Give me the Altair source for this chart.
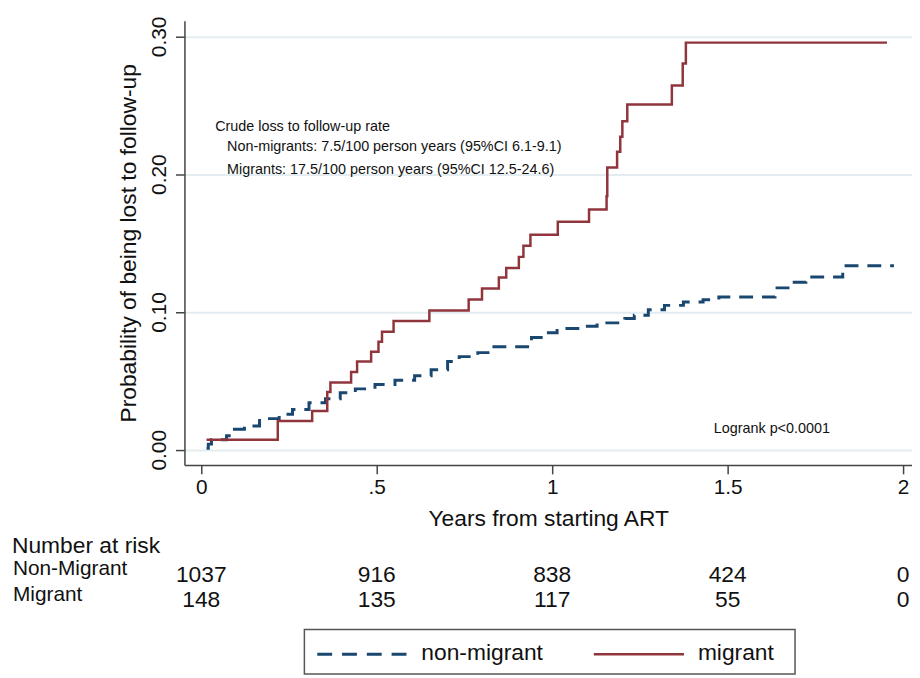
import altair as alt
import pandas as pd

# ---------------- data ----------------
series_names = ["non-migrant", "migrant"]
series_colors = ["#1a476f", "#90353b"]

nonmig_time = [0.015, 0.020, 0.029, 0.072, 0.086, 0.123, 0.166, 0.222, 0.260, 0.307,
               0.354, 0.396, 0.439, 0.495, 0.552, 0.608, 0.655, 0.702, 0.735, 0.788,
               0.834, 0.941, 0.974, 1.014, 1.081, 1.128, 1.207, 1.234, 1.274, 1.320,
               1.374, 1.430, 1.475, 1.635, 1.681, 1.723, 1.828, 1.974]
nonmig_prob = [0.001, 0.0041, 0.0072, 0.0101, 0.0149, 0.0173, 0.0226, 0.0257, 0.0293, 0.0341,
               0.0370, 0.0413, 0.0442, 0.0473, 0.0504, 0.0537, 0.0581, 0.0640, 0.0676, 0.0705,
               0.0748, 0.0815, 0.0849, 0.0880, 0.0897, 0.0921, 0.0952, 0.0976, 0.1017, 0.1048,
               0.1072, 0.1089, 0.1108, 0.1175, 0.1216, 0.1254, 0.1336, 0.1336]

mig_time = [0.015, 0.218, 0.316, 0.359, 0.368, 0.427, 0.444, 0.484, 0.505, 0.515,
            0.548, 0.650, 0.762, 0.800, 0.848, 0.869, 0.905, 0.918, 0.938, 1.016,
            1.105, 1.155, 1.157, 1.185, 1.194, 1.200, 1.214, 1.341, 1.372, 1.381, 1.954]
mig_prob = [0.0072, 0.0209, 0.0281, 0.0420, 0.0489, 0.0564, 0.0640, 0.0712, 0.0784, 0.0856,
            0.0935, 0.1010, 0.1090, 0.1170, 0.1250, 0.1320, 0.1400, 0.1480, 0.1560, 0.1655,
            0.1744, 0.1840, 0.2048, 0.2163, 0.2271, 0.2384, 0.2506, 0.2643, 0.2804, 0.2955, 0.2955]

risk_times = [0, 0.5, 1, 1.5, 2]
risk_nonmig = [1037, 916, 838, 424, 0]
risk_mig = [148, 135, 117, 55, 0]
risk_row_labels = ["Non-Migrant", "Migrant"]
risk_title = "Number at risk"

x_ticks = [0, 0.5, 1, 1.5, 2]
x_tick_labels = ["0", ".5", "1", "1.5", "2"]
y_ticks = [0.0, 0.1, 0.2, 0.3]

x_title = "Years from starting ART"
y_title = "Probability of being lost to follow-up"

note_lines = [
    "Crude loss to follow-up rate",
    "Non-migrants: 7.5/100 person years (95%CI 6.1-9.1)",
    "Migrants: 17.5/100 person years (95%CI 12.5-24.6)",
]
logrank_note = "Logrank p<0.0001"

# ---------------- tables ----------------
curve_df = pd.concat([
    pd.DataFrame({"group": series_names[0], "t": nonmig_time, "p": nonmig_prob}),
    pd.DataFrame({"group": series_names[1], "t": mig_time, "p": mig_prob}),
], ignore_index=True)

FONT = "Liberation Sans, Arial, Helvetica, sans-serif"
TXT = "#111111"
AXC = "#444444"

xs = alt.Scale(domain=[-0.048, 2.0254], nice=False, zero=False)
ys = alt.Scale(domain=[-0.011, 0.3113], nice=False, zero=False)

label_expr = " : ".join(
    f"datum.value == {v} ? '{l}'" for v, l in zip(x_ticks, x_tick_labels)
) + " : ''"

x_axis = alt.Axis(values=x_ticks, labelExpr=label_expr, grid=False,
                  tickSize=9, tickColor=AXC, tickWidth=1.5,
                  domainColor=AXC, domainWidth=1.5,
                  labelFontSize=21, labelPadding=3, labelColor=TXT, labelFont=FONT,
                  title=x_title, titleFontSize=23, titleFontWeight="normal",
                  titleColor=TXT, titleFont=FONT, titlePadding=10)

y_axis = alt.Axis(values=y_ticks, format=".2f", grid=True,
                  gridColor="#e3edf1", gridWidth=2,
                  tickSize=9, tickColor=AXC, tickWidth=1.5,
                  domainColor=AXC, domainWidth=1.5,
                  labelAngle=270, labelAlign="center", labelBaseline="alphabetic",
                  labelPadding=10, labelFontSize=21, labelColor=TXT, labelFont=FONT,
                  title=y_title, titleAngle=270, titleAlign="center",
                  titleBaseline="alphabetic", titleX=-49, titleY=224,
                  titleFontSize=23, titleFontWeight="normal", titleColor=TXT, titleFont=FONT)

curves = alt.Chart(curve_df).mark_line(interpolate="step-after").encode(
    x=alt.X("t:Q", scale=xs, axis=x_axis),
    y=alt.Y("p:Q", scale=ys, axis=y_axis),
    color=alt.Color("group:N", scale=alt.Scale(domain=series_names, range=series_colors), legend=None),
    strokeDash=alt.StrokeDash("group:N", scale=alt.Scale(domain=series_names, range=[[14, 9], [1, 0]]), legend=None),
    size=alt.Size("group:N", scale=alt.Scale(domain=series_names, range=[3, 2.5]), legend=None),
    detail="group:N",
)

layers = [curves]

# crude-rate annotation
note_x = [31, 43, 43]
note_y = [107, 127.5, 150]
for txt, nx, ny in zip(note_lines, note_x, note_y):
    layers.append(
        alt.Chart(pd.DataFrame({"s": [txt]})).mark_text(
            align="left", baseline="middle", fontSize=14.5, font=FONT, color=TXT
        ).encode(x=alt.value(nx), y=alt.value(ny), text="s:N")
    )
layers.append(
    alt.Chart(pd.DataFrame({"s": [logrank_note]})).mark_text(
        align="left", baseline="middle", fontSize=14.5, font=FONT, color=TXT
    ).encode(x=alt.value(534), y=alt.value(412), text="s:N")
)

# number-at-risk table
layers.append(
    alt.Chart(pd.DataFrame({"s": [risk_title]})).mark_text(
        align="left", baseline="alphabetic", fontSize=23, font=FONT, color=TXT
    ).encode(x=alt.value(-174), y=alt.value(537), text="s:N")
)
row_label_y = [559, 585]
row_num_y = [566, 591]
for lab, counts, ly, ny in zip(risk_row_labels, [risk_nonmig, risk_mig], row_label_y, row_num_y):
    layers.append(
        alt.Chart(pd.DataFrame({"s": [lab]})).mark_text(
            align="left", baseline="alphabetic", fontSize=21, font=FONT, color=TXT
        ).encode(x=alt.value(-173), y=alt.value(ly), text="s:N")
    )
    layers.append(
        alt.Chart(pd.DataFrame({"t": risk_times, "n": counts})).mark_text(
            align="center", baseline="alphabetic", fontSize=23, font=FONT, color=TXT
        ).encode(x=alt.X("t:Q", scale=xs, axis=x_axis), y=alt.value(ny), text="n:Q")
    )

# legend (Stata-style boxed key)
layers.append(
    alt.Chart(pd.DataFrame({"k": ["box"]})).mark_rect(
        filled=False, stroke="#555555", strokeWidth=1.5
    ).encode(x=alt.value(121), x2=alt.value(616), y=alt.value(614), y2=alt.value(659))
)
legend_dash = [[15, 10], [1, 0]]
legend_width = [3, 2.5]
for i, (name, col, dash, w) in enumerate(zip(series_names, series_colors, legend_dash, legend_width)):
    x0 = 134 + i * 279
    layers.append(
        alt.Chart(pd.DataFrame({"s": [name]})).mark_rule(
            color=col, strokeDash=dash, strokeWidth=w
        ).encode(x=alt.value(x0), x2=alt.value(x0 + 91), y=alt.value(639))
    )
    layers.append(
        alt.Chart(pd.DataFrame({"s": [name]})).mark_text(
            align="left", baseline="middle", fontSize=23, font=FONT, color=TXT
        ).encode(x=alt.value(x0 + 105), y=alt.value(638), text="s:N")
    )

chart = alt.layer(*layers).properties(
    width=734, height=448,
    autosize=alt.AutoSizeParams(type="none"),
    padding={"left": 178, "top": 10, "right": 0, "bottom": 212},
    background="white",
).configure_view(strokeWidth=0)

chart.save("out.html", embed_options={"renderer": "svg", "actions": False})
